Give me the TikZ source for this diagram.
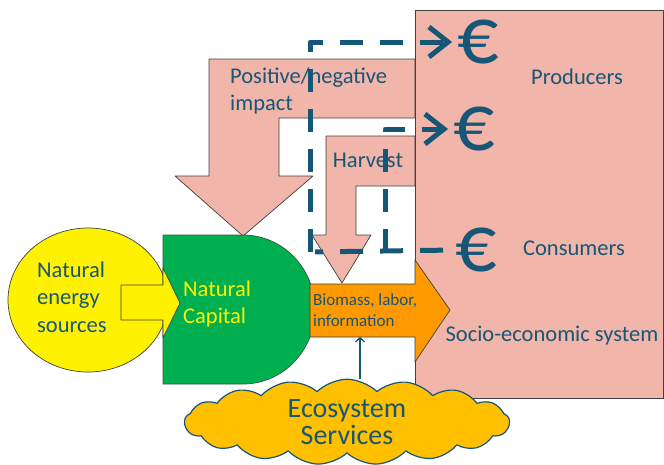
\documentclass[tikz,border=0pt]{standalone}
\usepackage{fontspec}
\setmainfont{Carlito}
\usetikzlibrary{arrows.meta,shapes.symbols}
\definecolor{ink}{RGB}{22,86,118}
\definecolor{salmon}{RGB}{242,181,170}
\definecolor{leaf}{RGB}{0,176,80}
\definecolor{amber}{RGB}{255,153,0}
\definecolor{gold}{RGB}{255,192,0}
\definecolor{edge}{RGB}{64,64,64}
\begin{document}
\begin{tikzpicture}[x=1pt,y=-1pt,line join=round,
	block/.style={draw=edge,line width=.7pt},
	txt/.style={text=ink,font=\fontsize{22.5}{27.5}\selectfont,align=left,inner sep=0pt},
	euro/.style={text=ink,font=\fontsize{82}{82}\selectfont,inner sep=0pt},
	money/.style={draw=ink,line width=5pt,dash pattern=on 23pt off 17pt,-{Straight Barb[length=19pt,width=30pt]},shorten >=5pt}]
	\useasboundingbox (0,0) rectangle (664,464);
	%impact
	\draw[block,fill=salmon] (415,59)--(209,59)--(209,176)--(175,176)--(243,236)--(313,176)--(279,176)--(279,118)--(415,118)--cycle;
	%harvest
	\draw[block,fill=salmon] (415,136)--(326,136)--(326,235)--(312,235)--(342,283)--(371,235)--(356,235)--(356,186)--(415,186)--cycle;
	%socio-economic system
	\draw[block,fill=salmon] (415,10) rectangle (663,398);
	%sources, capital
	\draw[block,fill=yellow] (88,300) ellipse [x radius=80,y radius=72];
	\draw[draw=edge!80!leaf,line width=.7pt,fill=leaf] (163,235)--(243,235) arc[start angle=-90,end angle=90,x radius=72,y radius=74.5]--(163,384)--cycle;
	\draw[block,fill=yellow] (121,285)--(163,285)--(163,268)--(180,303)--(163,338)--(163,320)--(121,320)--cycle;
	%flow
	\draw[block,fill=amber] (310,284)--(415,284)--(415,260)--(450,310)--(415,362)--(415,337)--(310,337)--cycle;
	\node[txt,anchor=west] (impact) at (230,91) {Positive/negative\\impact};
	\node[txt] (harvest) at (368,160) {Harvest};
	\node[txt] (producers) at (577,77) {Producers};
	\node[txt] (consumers) at (574,248) {Consumers};
	\node[txt] (socio) at (552,336) {Socio-economic system};
	\node[txt,anchor=west] (energy) at (37,297) {Natural\\energy\\sources};
	\node[txt,anchor=west,text=yellow] (capital) at (183,304) {Natural\\Capital};
	\node[txt,anchor=west,font=\fontsize{17}{21}\selectfont] (biomass) at (313,310) {Biomass, labor,\\information};
	\node[cloud,cloud puffs=17,cloud puff arc=90,cloud ignores aspect,minimum width=325,minimum height=80,draw=ink,line width=1.2pt,fill=gold,
		text=ink,align=center,font=\fontsize{28}{27}\selectfont] (eco) at (347,422) {Ecosystem\\Services};
	\coordinate (inflow) at (360,337);
	\draw[ink,line width=1.3pt,-{Straight Barb[length=4pt,width=9pt]}] (inflow |- eco.north)--(inflow);
	%money
	\node[euro] (eA) at (478,42) {€};
	\node[euro] (eB) at (474,129) {€};
	\node[euro] (eC) at (476,250) {€};
	\coordinate (turn) at (310,252);
	\coordinate (split) at (385,252);
	\draw[money,-,shorten <=12pt] (eC.west)--(turn);
	\draw[money] (turn)|-(eA.west);
	\draw[money] (split)|-(eB.west);
\end{tikzpicture}
\end{document}
